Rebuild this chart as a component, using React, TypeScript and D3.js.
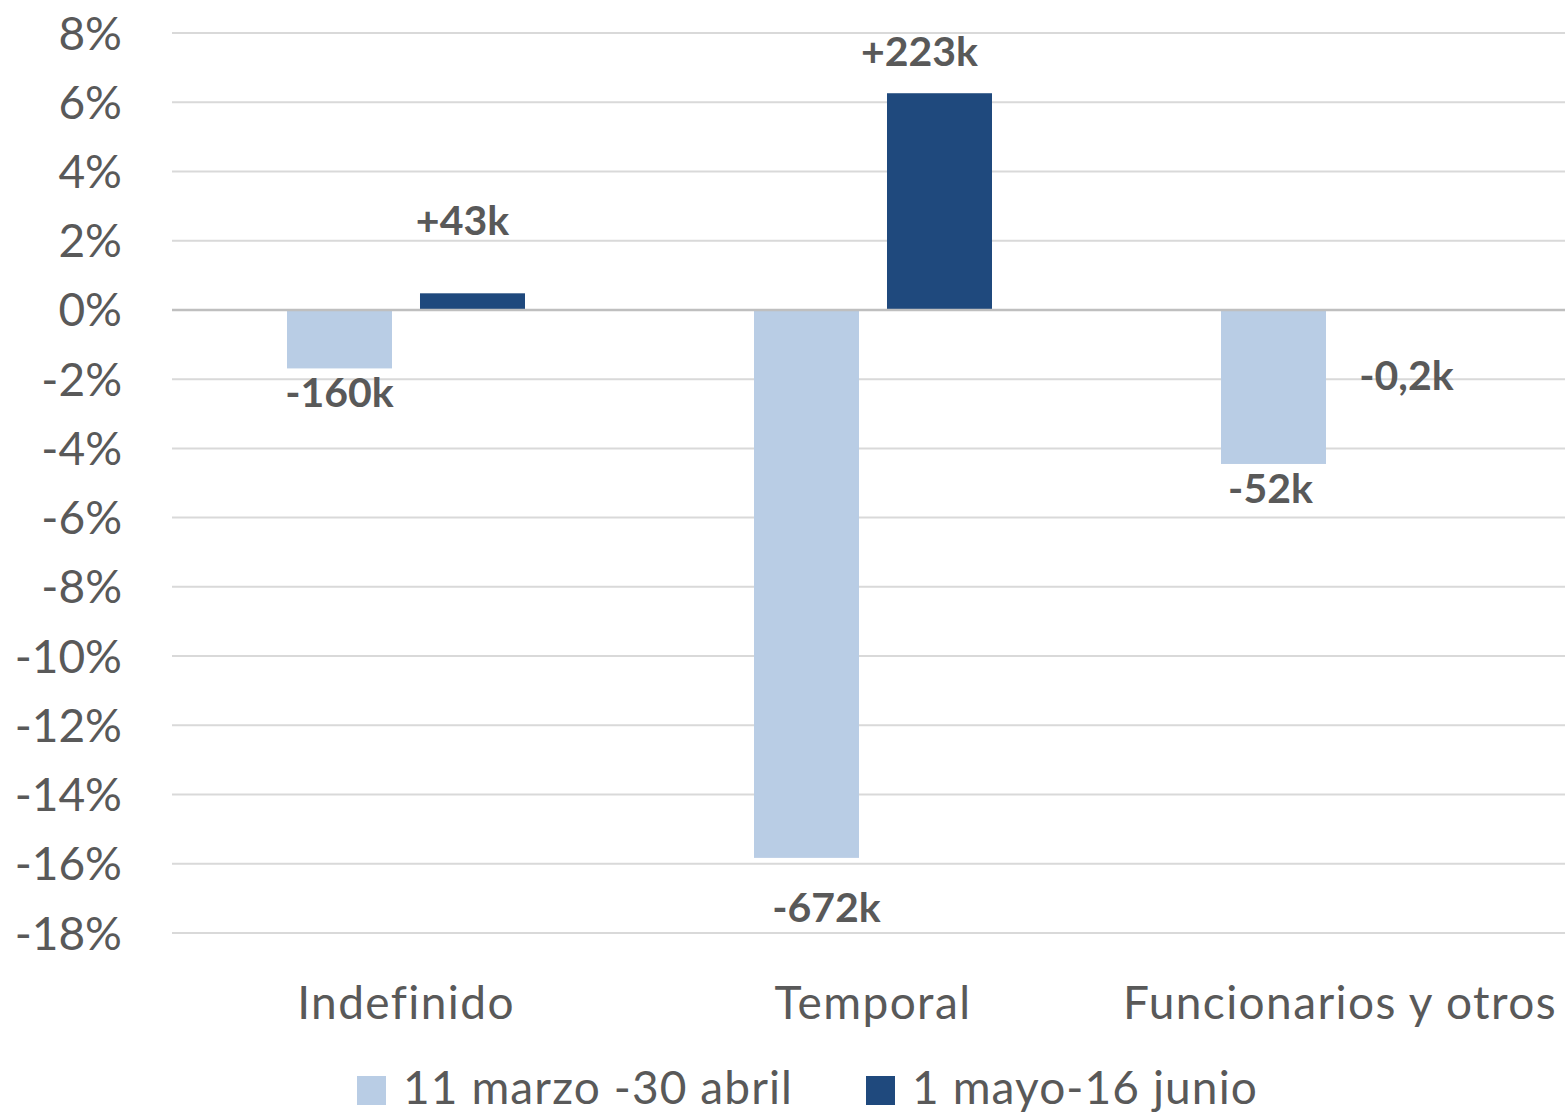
import React from "react";
import * as d3 from "d3";

const categories = ["Indefinido", "Temporal", "Funcionarios y otros"];
const seriesNames = ["11 marzo -30 abril", "1 mayo-16 junio"];
const seriesColors = ["#b9cde5", "#1f497d"];
const marzoAbril = [-1.69, -15.83, -4.45];
const mayoJunio = [0.48, 6.26, -0.02];
const labelsMarzoAbril = ["-160k", "-672k", "-52k"];
const labelsMayoJunio = ["+43k", "+223k", "-0,2k"];
const yTicks = d3.range(-18, 9, 2);

// manual label nudges (px), as in the original chart
const nudgeYMarzoAbril = [0, 25, 0];
const nudgeYMayoJunio = [-31, 0, 41];
const nudgeXMarzoAbril = [0, 20, -3];
const nudgeXMayoJunio = [-10, -20, 0];

const W = 1565;
const H = 1112;
const FONT = "Lato, 'Open Sans', sans-serif";
const TEXT = "#595959";

export default function App() {
  const y = d3.scaleLinear().domain([-18, 8]).range([933, 33]);
  const x0 = d3.scaleBand<string>().domain(categories).range([172.5, 1573.5]).paddingInner(0).paddingOuter(0);
  const x1 = d3
    .scaleBand<string>()
    .domain(seriesNames)
    .range([0, x0.bandwidth()])
    .paddingInner(0.2105)
    .paddingOuter(0.861);

  const seriesVals = [marzoAbril, mayoJunio];
  const seriesLabels = [labelsMarzoAbril, labelsMayoJunio];
  const nudgesY = [nudgeYMarzoAbril, nudgeYMayoJunio];
  const nudgesX = [nudgeXMarzoAbril, nudgeXMayoJunio];

  return (
    <svg width={W} height={H} style={{ position: "absolute", left: 0, top: 0, background: "#fff" }} fontFamily={FONT}>
      {/* gridlines */}
      {yTicks.filter((t) => t !== 0).map((t) => (
        <line key={t} x1={172} x2={W} y1={y(t)} y2={y(t)} stroke="#d9d9d9" strokeWidth={2} />
      ))}
      {/* y tick labels */}
      {yTicks.map((t) => (
        <text key={"l" + t} x={122} y={y(t)} dy="0.36em" textAnchor="end" fontSize={46} fill={TEXT}>
          {t + "%"}
        </text>
      ))}
      {/* bars */}
      {seriesVals.map((vals, si) =>
        categories.map((c, ci) => {
          const v = vals[ci];
          const bx = (x0(c) as number) + (x1(seriesNames[si]) as number);
          const y0 = y(0);
          const yv = y(v);
          return (
            <rect
              key={si + "-" + ci}
              x={bx}
              y={Math.min(y0, yv)}
              width={x1.bandwidth()}
              height={Math.abs(yv - y0)}
              fill={seriesColors[si]}
            />
          );
        })
      )}
      {/* zero line */}
      <line x1={172} x2={W} y1={y(0)} y2={y(0)} stroke="#bfbfbf" strokeWidth={2.5} />
      {/* data labels */}
      {seriesVals.map((vals, si) =>
        categories.map((c, ci) => {
          const v = vals[ci];
          const cx = (x0(c) as number) + (x1(seriesNames[si]) as number) + x1.bandwidth() / 2 + nudgesX[si][ci];
          const cy = y(v) + (v < 0 ? 24 : -42) + nudgesY[si][ci];
          return (
            <text
              key={"d" + si + "-" + ci}
              x={cx}
              y={cy}
              dy="0.36em"
              textAnchor="middle"
              fontSize={41}
              fontWeight={700}
              fill={TEXT}
            >
              {seriesLabels[si][ci]}
            </text>
          );
        })
      )}
      {/* category labels */}
      {categories.map((c) => (
        <text
          key={"c" + c}
          x={(x0(c) as number) + x0.bandwidth() / 2}
          y={1019}
          textAnchor="middle"
          fontSize={46}
          letterSpacing={1.4}
          fill={TEXT}
        >
          {c}
        </text>
      ))}
      {/* legend */}
      {seriesNames.map((s, i) => {
        const lx = [357, 866][i];
        return (
          <g key={"lg" + i}>
            <rect x={lx} y={1076} width={29} height={29} fill={seriesColors[i]} />
            <text x={lx + 46} y={1104} fontSize={46} letterSpacing={1.1} fill={TEXT}>
              {s}
            </text>
          </g>
        );
      })}
    </svg>
  );
}
